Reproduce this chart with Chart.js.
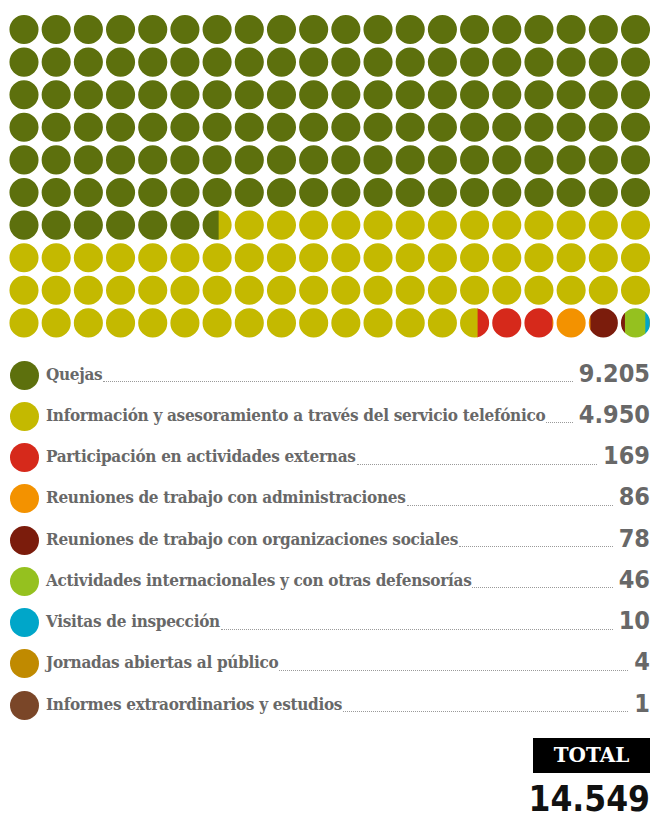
<!DOCTYPE html>
<html>
<head>
<meta charset="utf-8">
<script src="https://cdn.jsdelivr.net/npm/chart.js@4/dist/chart.umd.min.js"></script>
<style>
  html, body { margin: 0; padding: 0; background: #fff; }
  body { width: 654px; height: 813px; position: relative; overflow: hidden; }
  #wrap { position: absolute; left: 0; top: 0; width: 654px; height: 345px; }
  #legend { position: absolute; left: 0; top: 0; width: 654px; }
  .row { position: absolute; left: 0; width: 654px; height: 41px; }
  .dot { position: absolute; left: 9.5px; top: 6px; width: 29px; height: 29px; border-radius: 50%; }
  .lab { position: absolute; left: 46px; top: 9px; font-family: "DejaVu Serif", serif; font-stretch: condensed; font-weight: bold; font-size: 17px; color: #686868; white-space: nowrap; letter-spacing: -0.3px; }
  .lead { position: absolute; top: 26.5px; height: 0; border-bottom: 1px dotted #9a9a9a; }
  .val { position: absolute; right: 4px; top: 4px; font-family: "DejaVu Sans", sans-serif; font-stretch: condensed; font-weight: bold; font-size: 25px; color: #686868; }
  #totbox { position: absolute; left: 533px; top: 738px; width: 117px; height: 35px; background: #000; color: #fff; font-family: "DejaVu Serif", serif; font-weight: bold; font-size: 20px; text-align: center; line-height: 35px; }
  #totval { position: absolute; right: 4px; top: 779px; font-family: "DejaVu Sans", sans-serif; font-stretch: condensed; font-weight: bold; font-size: 35px; color: #111; }
</style>
</head>
<body>
<div id="wrap"><canvas id="c" width="654" height="345"></canvas></div>
<div id="legend"></div>
<div id="totbox">TOTAL</div>
<div id="totval"></div>
<script>
// ---- data ----
const categories = [
  "Quejas",
  "Información y asesoramiento a través del servicio telefónico",
  "Participación en actividades externas",
  "Reuniones de trabajo con administraciones",
  "Reuniones de trabajo con organizaciones sociales",
  "Actividades internacionales y con otras defensorías",
  "Visitas de inspección",
  "Jornadas abiertas al público",
  "Informes extraordinarios y estudios"
];
const values = [9205, 4950, 169, 86, 78, 46, 10, 4, 1];
const valueLabels = ["9.205", "4.950", "169", "86", "78", "46", "10", "4", "1"];
const colors = ["#5d700d", "#c4b900", "#d6291b", "#f39200", "#7b1c0c", "#95c11f", "#00a6c9", "#c08a00", "#7a4628"];
const totalLabel = "14.549";
const gridCols = 20;
const gridRows = 10;

// ---- build stacked table: each row of the waffle is one stacked bar ----
const total = values.reduce((a, b) => a + b, 0);
const cells = gridCols * gridRows;
const rowLabels = Array.from({ length: gridRows }, (_, i) => String(i + 1));
let cum = 0;
const datasets = categories.map((name, k) => {
  const start = cum / total * cells;
  cum += values[k];
  const end = cum / total * cells;
  const data = rowLabels.map((_, r) => {
    const a = Math.max(start, r * gridCols), b = Math.min(end, (r + 1) * gridCols);
    return Math.max(0, b - a);
  });
  return { label: name, data, backgroundColor: colors[k], borderWidth: 0, barPercentage: 1, categoryPercentage: 1 };
});

const circleClip = {
  id: 'circleClip',
  beforeDatasetsDraw(chart) {
    const ctx = chart.ctx, xs = chart.scales.x, ys = chart.scales.y;
    const cellW = xs.getPixelForValue(1) - xs.getPixelForValue(0);
    const r = cellW * 0.452;
    ctx.save();
    ctx.beginPath();
    for (let i = 0; i < gridRows; i++) {
      const cy = ys.getPixelForValue(i);
      for (let j = 0; j < gridCols; j++) {
        const cx = xs.getPixelForValue(j + 0.5);
        ctx.moveTo(cx + r, cy);
        ctx.arc(cx, cy, r, 0, Math.PI * 2);
      }
    }
    ctx.clip();
  },
  afterDatasetsDraw(chart) { chart.ctx.restore(); }
};

new Chart(document.getElementById('c'), {
  type: 'bar',
  data: { labels: rowLabels, datasets },
  options: {
    indexAxis: 'y',
    responsive: false,
    animation: false,
    layout: { padding: { left: 7.9, right: 2.4, top: 13.2, bottom: 5.8 } },
    plugins: { legend: { display: false }, tooltip: { enabled: false } },
    scales: {
      x: { stacked: true, min: 0, max: gridCols, display: false },
      y: { stacked: true, display: false }
    }
  },
  plugins: [circleClip]
});

// ---- legend ----
const legend = document.getElementById('legend');
categories.forEach((name, k) => {
  const row = document.createElement('div');
  row.className = 'row';
  row.style.top = (354.5 + k * 41.25) + 'px';
  const dot = document.createElement('div'); dot.className = 'dot'; dot.style.background = colors[k];
  const lab = document.createElement('span'); lab.className = 'lab'; lab.textContent = name;
  const val = document.createElement('span'); val.className = 'val'; val.textContent = valueLabels[k];
  const lead = document.createElement('div'); lead.className = 'lead';
  row.append(dot, lab, lead, val);
  legend.appendChild(row);
  const l = 46 + lab.getBoundingClientRect().width + 1;
  lead.style.left = l + 'px';
  lead.style.width = Math.max(0, val.getBoundingClientRect().left - 6 - l) + 'px';
});
document.getElementById('totval').textContent = totalLabel;
</script>
</body>
</html>
